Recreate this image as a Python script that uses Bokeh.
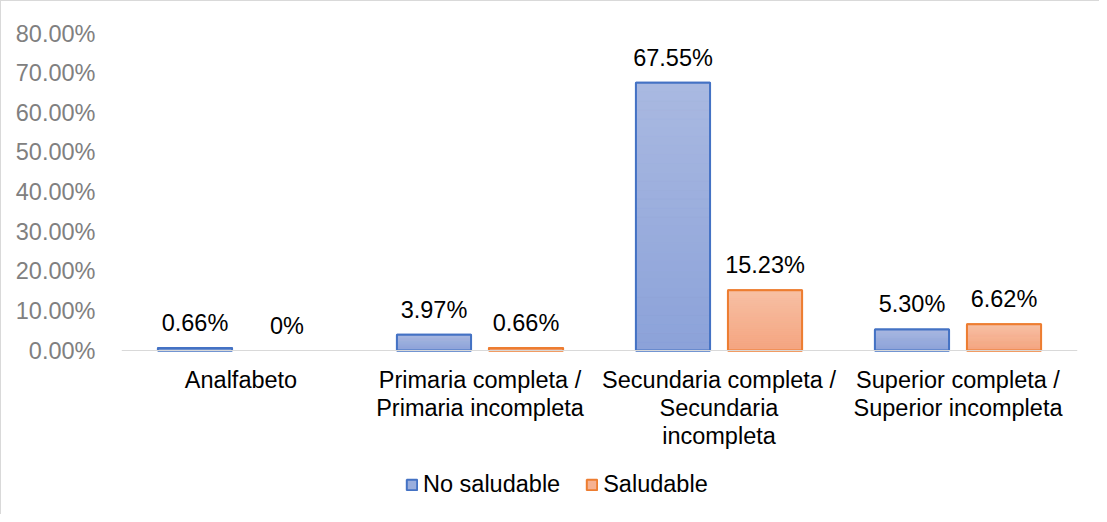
from bokeh.plotting import figure
from bokeh.models import ColumnDataSource, FixedTicker, Range1d, Legend, LegendItem
from bokeh.embed import file_html
from bokeh.resources import INLINE

categories = ["Analfabeto",
              "Primaria completa /\nPrimaria incompleta",
              "Secundaria completa /\nSecundaria\nincompleta",
              "Superior completa /\nSuperior incompleta"]
series_names = ["No saludable", "Saludable"]
no_saludable = [0.66, 3.97, 67.55, 5.30]
saludable = [0.00, 0.66, 15.23, 6.62]
y_ticks = [0, 10, 20, 30, 40, 50, 60, 70, 80]

FONT = "Liberation Sans"
FS = "23.5px"
# (top colour, bottom colour, line colour)
BLUE = ((170, 185, 225), (139, 162, 217), "#4472C4")
ORANGE = ((247, 192, 165), (244, 164, 127), "#ED7D31")

centers = [i + 0.5 for i in range(len(categories))]
off = 0.1925
bw = 0.31
N_STEPS = 30

def fmt(v):
    return "0%" if v == 0 else f"{v:.2f}%"

def mix(c1, c2, t):
    return "#%02x%02x%02x" % tuple(round(a + (b - a) * t) for a, b in zip(c1, c2))

px_per_unit = 317 / 80
y_bottom = -165 / px_per_unit

p = figure(width=1099, height=514, output_backend="svg", toolbar_location=None,
           x_range=Range1d(0, 4), y_range=Range1d(y_bottom, 80),
           min_border_left=120, min_border_right=23, min_border_top=32, min_border_bottom=0)
p.styles = {"border-left": "1px solid #d9d9d9", "border-top": "1px solid #d9d9d9"}
p.outline_line_color = None
p.xgrid.visible = False
p.ygrid.visible = False

renderers = []
for vals, sign, (ctop, cbot, lc) in [(no_saludable, -1, BLUE), (saludable, 1, ORANGE)]:
    xs = [c + sign * off for c in centers]
    bx = [x for x, v in zip(xs, vals) if v > 0]
    bv = [v for v in vals if v > 0]
    base = p.vbar(x=bx, top=bv, width=bw, fill_color=mix(cbot, ctop, 0.5), line_color=lc, line_width=2)
    renderers.append(base)
    # vertical gradient fill (light at top, darker at bottom)
    gx, gb, gt, gc = [], [], [], []
    for x, v in zip(bx, bv):
        for k in range(N_STEPS):
            gx.append(x)
            gb.append(v * k / N_STEPS)
            gt.append(v * (k + 1) / N_STEPS)
            gc.append(mix(cbot, ctop, (k + 0.5) / N_STEPS))
    p.vbar(x=gx, bottom=gb, top=gt, width=bw, fill_color=gc, line_color=gc, line_width=0.5)
    p.vbar(x=bx, top=bv, width=bw, fill_alpha=0, line_color=lc, line_width=2)
    lab = ColumnDataSource(dict(x=xs, y=vals, t=[fmt(v) for v in vals]))
    p.text(x="x", y="y", text="t", source=lab, text_align="center", text_baseline="middle",
           y_offset=-25, text_font_size=FS, text_color="#000000", text_font={"value": FONT})

# axes
p.xaxis.fixed_location = 0
p.xaxis.ticker = FixedTicker(ticks=centers)
p.xaxis.major_label_overrides = {c: n for c, n in zip(centers, categories)}
p.xaxis.axis_line_color = "#D9D9D9"
p.xaxis.axis_line_width = 1
p.xaxis.major_tick_line_color = None
p.xaxis.minor_tick_line_color = None
p.xaxis.major_label_standoff = 10
p.xaxis.major_label_text_font = FONT
p.xaxis.major_label_text_font_size = FS
p.xaxis.major_label_text_line_height = 1.08
p.xaxis.major_label_text_color = "#000000"

p.yaxis.ticker = FixedTicker(ticks=y_ticks)
p.yaxis.major_label_overrides = {t: f"{t:.2f}%" for t in y_ticks}
p.yaxis.axis_line_color = None
p.yaxis.major_tick_line_color = None
p.yaxis.minor_tick_line_color = None
p.yaxis.major_label_standoff = 20
p.yaxis.major_label_text_font = FONT
p.yaxis.major_label_text_font_size = FS
p.yaxis.major_label_text_color = "#808080"

legend = Legend(items=[LegendItem(label=n, renderers=[r]) for n, r in zip(series_names, renderers)],
                orientation="horizontal", location=(284, 17),
                label_text_font=FONT, label_text_font_size=FS, label_text_color="#000000",
                glyph_width=13, glyph_height=13, label_standoff=5, spacing=25, label_height=26,
                padding=0, margin=0, border_line_color=None, background_fill_alpha=0)
p.add_layout(legend, "center")

open("out.html", "w").write(file_html(p, INLINE))
